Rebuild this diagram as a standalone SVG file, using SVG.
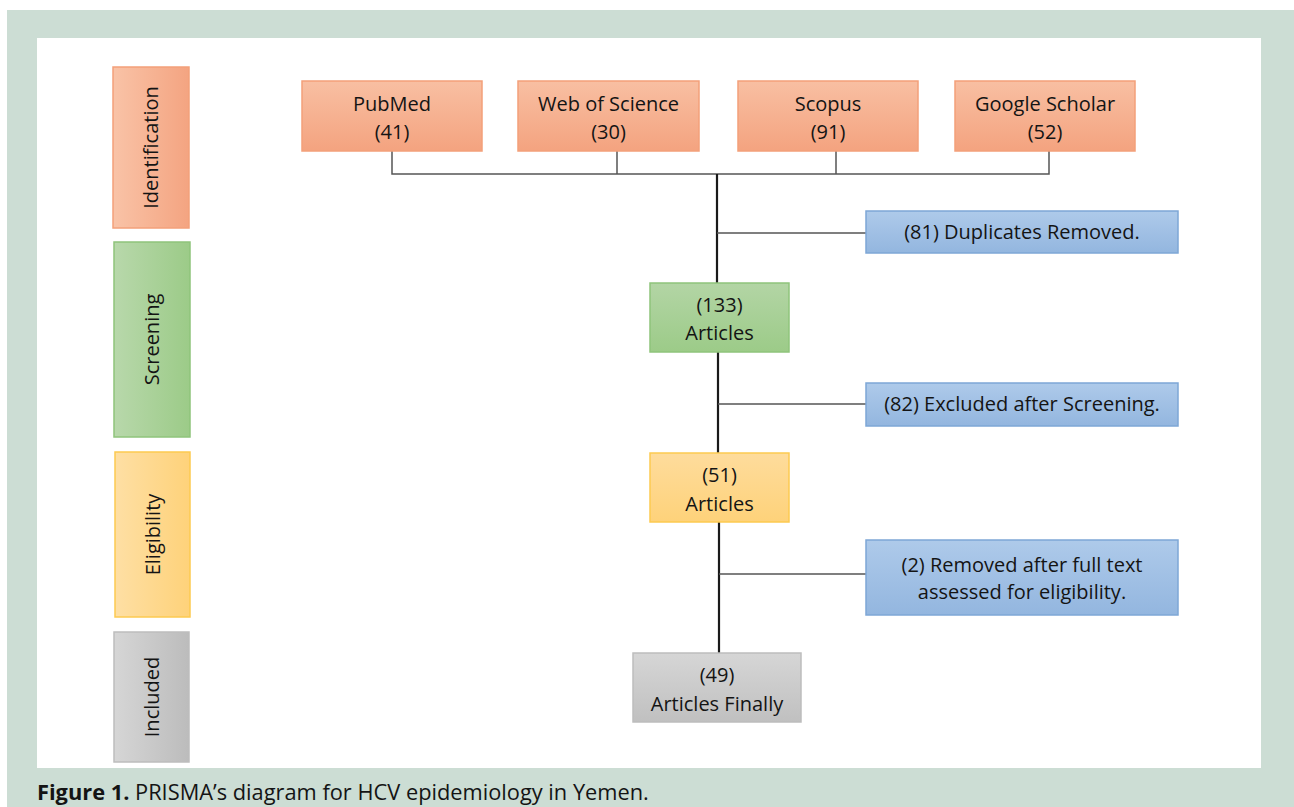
<svg xmlns="http://www.w3.org/2000/svg" width="1294" height="807" viewBox="0 0 1294 807">
<defs>
<linearGradient id="gOrH" x1="0" y1="0" x2="1" y2="0"><stop offset="0" stop-color="#f9c3a7"/><stop offset="1" stop-color="#f4a481"/></linearGradient>
<linearGradient id="gOrV" x1="0" y1="0" x2="0" y2="1"><stop offset="0" stop-color="#f8bfa2"/><stop offset="1" stop-color="#f4a37f"/></linearGradient>
<linearGradient id="gGrH" x1="0" y1="0" x2="1" y2="0"><stop offset="0" stop-color="#b8d8ab"/><stop offset="1" stop-color="#9ccb88"/></linearGradient>
<linearGradient id="gGrV" x1="0" y1="0" x2="0" y2="1"><stop offset="0" stop-color="#b3d5a5"/><stop offset="1" stop-color="#9ccb88"/></linearGradient>
<linearGradient id="gYeH" x1="0" y1="0" x2="1" y2="0"><stop offset="0" stop-color="#fedfa4"/><stop offset="1" stop-color="#fed27a"/></linearGradient>
<linearGradient id="gYeV" x1="0" y1="0" x2="0" y2="1"><stop offset="0" stop-color="#fedc9c"/><stop offset="1" stop-color="#fed27a"/></linearGradient>
<linearGradient id="gGyH" x1="0" y1="0" x2="1" y2="0"><stop offset="0" stop-color="#d6d6d6"/><stop offset="1" stop-color="#bcbcbc"/></linearGradient>
<linearGradient id="gGyV" x1="0" y1="0" x2="0" y2="1"><stop offset="0" stop-color="#d6d6d6"/><stop offset="1" stop-color="#c0c0c0"/></linearGradient>
<linearGradient id="gBl" x1="0" y1="0" x2="0" y2="1"><stop offset="0" stop-color="#aecaea"/><stop offset="1" stop-color="#93b6df"/></linearGradient>
</defs>
<style>
text{font-family:"Open Sans","Noto Sans","Liberation Sans",sans-serif;fill:#141414;}
.t{font-size:20px;text-anchor:middle;}
.or{stroke:#f3a07a;stroke-width:1.5;}
.gr{stroke:#8fc47b;stroke-width:1.5;}
.ye{stroke:#fdca50;stroke-width:1.5;}
.gy{stroke:#bdbdbd;stroke-width:1.5;}
.bl{stroke:#7ea7d6;stroke-width:1.5;}
.ln{fill:none;stroke:#555;stroke-width:1.5;}
.tk{fill:none;stroke:#1a1a1a;stroke-width:2.2;}
</style>
<rect x="7" y="10" width="1287" height="797" fill="#ccddd4"/>
<rect x="37" y="38" width="1224" height="730" fill="#ffffff"/>

<g id="connectors">
<path class="ln" d="M392,151 V174 H1049 V151 M617,151 V174 M836,151 V174"/>
<path class="tk" d="M717,174 V283 M718,352 V453 M719,522 V653"/>
<path class="ln" d="M717,233 H866 M718,404 H866 M719,574 H866"/>
</g>

<g id="stage-identification"><rect class="or" x="113" y="67" width="76" height="161" fill="url(#gOrH)"/><text class="t" transform="translate(151,147.5) rotate(-90)" dy="7">Identification</text></g>
<g id="stage-screening"><rect class="gr" x="114" y="242" width="76" height="195" fill="url(#gGrH)"/><text class="t" transform="translate(152,339.5) rotate(-90)" dy="7">Screening</text></g>
<g id="stage-eligibility"><rect class="ye" x="115" y="452" width="75" height="165" fill="url(#gYeH)"/><text class="t" transform="translate(152.5,534.5) rotate(-90)" dy="7">Eligibility</text></g>
<g id="stage-included"><rect class="gy" x="114" y="632" width="75" height="130" fill="url(#gGyH)"/><text class="t" transform="translate(151.5,697) rotate(-90)" dy="7">Included</text></g>

<g id="pubmed"><rect class="or" x="302" y="81" width="180" height="70" fill="url(#gOrV)"/><text class="t" x="392" y="111">PubMed</text><text class="t" x="392" y="139">(41)</text></g>
<g id="wos"><rect class="or" x="518" y="81" width="181" height="70" fill="url(#gOrV)"/><text class="t" x="608.5" y="111">Web of Science</text><text class="t" x="608.5" y="139">(30)</text></g>
<g id="scopus"><rect class="or" x="738" y="81" width="180" height="70" fill="url(#gOrV)"/><text class="t" x="828" y="111">Scopus</text><text class="t" x="828" y="139">(91)</text></g>
<g id="scholar"><rect class="or" x="955" y="81" width="180" height="70" fill="url(#gOrV)"/><text class="t" x="1045" y="111">Google Scholar</text><text class="t" x="1045" y="139">(52)</text></g>

<g id="duplicates"><rect class="bl" x="866" y="211" width="312" height="42" fill="url(#gBl)"/><text class="t" x="1022" y="239">(81) Duplicates Removed.</text></g>
<g id="articles133"><rect class="gr" x="650" y="283" width="139" height="69" fill="url(#gGrV)"/><text class="t" x="719.5" y="312">(133)</text><text class="t" x="719.5" y="340">Articles</text></g>
<g id="excluded"><rect class="bl" x="866" y="383" width="312" height="43" fill="url(#gBl)"/><text class="t" x="1022" y="411">(82) Excluded after Screening.</text></g>
<g id="articles51"><rect class="ye" x="650" y="453" width="139" height="69" fill="url(#gYeV)"/><text class="t" x="719.5" y="482">(51)</text><text class="t" x="719.5" y="511">Articles</text></g>
<g id="removed"><rect class="bl" x="866" y="540" width="312" height="75" fill="url(#gBl)"/><text class="t" x="1022" y="572">(2) Removed after full text</text><text class="t" x="1022" y="599">assessed for eligibility.</text></g>
<g id="final"><rect class="gy" x="633" y="653" width="168" height="69" fill="url(#gGyV)"/><text class="t" x="717" y="682">(49)</text><text class="t" x="717" y="711">Articles Finally</text></g>

<text x="37" y="800" style="font-size:21.8px;"><tspan font-weight="bold">Figure 1.</tspan> PRISMA’s diagram for HCV epidemiology in Yemen.</text>
</svg>
